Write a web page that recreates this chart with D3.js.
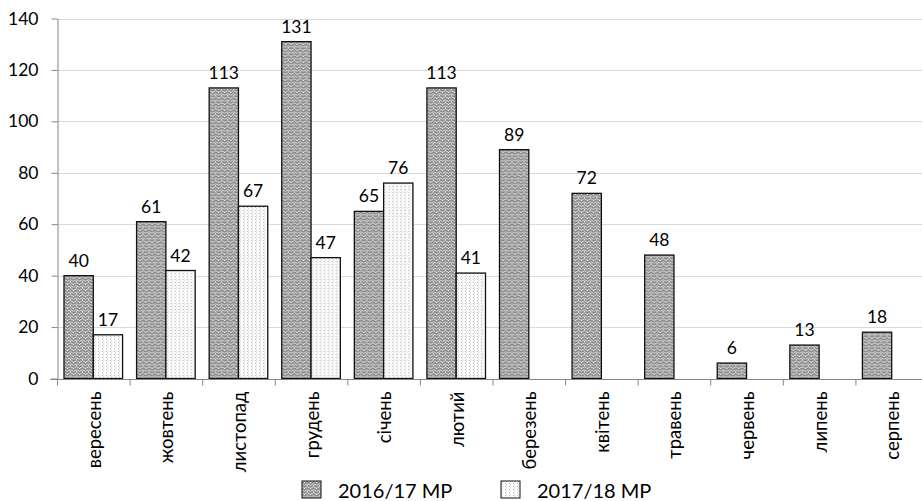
<!DOCTYPE html>
<html>
  <head>
    <meta charset="utf-8" />
    <script src="https://d3js.org/d3.v7.min.js"></script>
    <style>
      body { margin: 0; background: #fff; }
      svg { display: block; font-family: Lato, "Open Sans", sans-serif; }
    </style>
  </head>
  <body>
    <svg id="canvas" width="922" height="501"></svg>
    <script>
      // data
      var months = ["вересень", "жовтень", "листопад", "грудень", "січень", "лютий",
        "березень", "квітень", "травень", "червень", "липень", "серпень"];
      var seriesNames = ["2016/17 МР", "2017/18 МР"];
      var values1617 = [40, 61, 113, 131, 65, 113, 89, 72, 48, 6, 13, 18];
      var values1718 = [17, 42, 67, 47, 76, 41, null, null, null, null, null, null];
      var yTicks = [0, 20, 40, 60, 80, 100, 120, 140];

      var canvas = d3.select("#canvas");

      // patterns for bars
      var defs = canvas.append("defs");
      var p1 = defs.append("pattern")
        .attr("id", "pat1")
        .attr("patternUnits", "userSpaceOnUse")
        .attr("width", 6).attr("height", 6);
      p1.append("rect").attr("width", 6).attr("height", 6).attr("fill", "#8c8c8c");
      p1.append("path")
        .attr("d", "M0,1.5 Q1.5,0 3,1.5 T6,1.5 M0,4.5 Q1.5,3 3,4.5 T6,4.5")
        .attr("fill", "none").attr("stroke", "#d8d8d8").attr("stroke-width", 1);
      p1.append("rect").attr("x", 4).attr("y", 2).attr("width", 1).attr("height", 1).attr("fill", "#f2f2f2");
      p1.append("rect").attr("x", 1).attr("y", 5).attr("width", 1).attr("height", 1).attr("fill", "#f2f2f2");

      var p2 = defs.append("pattern")
        .attr("id", "pat2")
        .attr("patternUnits", "userSpaceOnUse")
        .attr("width", 4).attr("height", 3);
      p2.append("rect").attr("width", 4).attr("height", 3).attr("fill", "#fbfbfb");
      p2.append("rect").attr("x", 1).attr("y", 0).attr("width", 1).attr("height", 1).attr("fill", "#b5b5b5");
      p2.append("rect").attr("x", 2).attr("y", 1.5).attr("width", 1).attr("height", 1).attr("fill", "#cfcfcf");

      var fills = ["url(#pat1)", "url(#pat2)"];

      var x0 = d3.scaleBand().domain(months).range([57, 928]).padding(0);
      var x1 = d3.scaleBand().domain(seriesNames).range([7, x0.bandwidth() - 7]).padding(0);
      var y = d3.scaleLinear().domain([0, 140]).range([378.5, 18.5]);

      // grid lines
      canvas.append("g")
        .selectAll("line")
        .data(yTicks.slice(1))
        .enter()
        .append("line")
        .attr("x1", 57).attr("x2", 922)
        .attr("y1", function (d) { return Math.round(y(d)) + 0.5; })
        .attr("y2", function (d) { return Math.round(y(d)) + 0.5; })
        .attr("stroke", "#d9d9d9").attr("stroke-width", 1);

      // y axis
      var yAxis = canvas.append("g")
        .attr("transform", "translate(57.5,0)")
        .call(d3.axisLeft(y).tickValues(yTicks).tickSize(6).tickPadding(13).tickSizeOuter(0));
      yAxis.select(".domain").attr("stroke", "#868686");
      yAxis.selectAll(".tick line").attr("stroke", "#868686");
      yAxis.selectAll(".tick text").attr("font-size", "17.5px").attr("fill", "#000")
        .attr("font-family", "Lato, sans-serif");

      // bars
      var rows = months.map(function (m, i) {
        return { month: m, vals: [values1617[i], values1718[i]] };
      });

      var groups = canvas.append("g")
        .selectAll("g")
        .data(rows)
        .enter()
        .append("g")
        .attr("transform", function (d) { return "translate(" + x0(d.month) + ",0)"; });

      var cells = groups.selectAll("g")
        .data(function (d) {
          return d.vals.map(function (v, j) { return { s: seriesNames[j], j: j, v: v }; })
            .filter(function (c) { return c.v !== null; });
        })
        .enter()
        .append("g");

      cells.append("rect")
        .attr("x", function (d) { return x1(d.s); })
        .attr("y", function (d) { return y(d.v); })
        .attr("width", x1.bandwidth())
        .attr("height", function (d) { return y(0) - y(d.v); })
        .attr("fill", function (d) { return fills[d.j]; })
        .attr("stroke", "#111").attr("stroke-width", 1.3);

      cells.append("text")
        .attr("x", function (d) { return x1(d.s) + x1.bandwidth() / 2; })
        .attr("y", function (d) { return y(d.v) - 9; })
        .attr("text-anchor", "middle")
        .attr("font-size", "17.5px")
        .text(function (d) { return d.v; });

      // x axis
      var xAxis = canvas.append("g")
        .attr("transform", "translate(0," + (Math.round(y(0)) + 0.5) + ")");
      xAxis.append("line").attr("x1", 50).attr("x2", 922).attr("stroke", "#868686");
      xAxis.selectAll(".tk")
        .data(months.concat(["end"]))
        .enter()
        .append("line")
        .attr("class", "tk")
        .attr("x1", function (d, i) { return 57.5 + i * x0.bandwidth(); })
        .attr("x2", function (d, i) { return 57.5 + i * x0.bandwidth(); })
        .attr("y1", 0).attr("y2", 6)
        .attr("stroke", "#868686");
      xAxis.selectAll("text")
        .data(months)
        .enter()
        .append("text")
        .attr("transform", function (d) {
          return "translate(" + (x0(d) + x0.bandwidth() / 2 + 1) + ",12) rotate(-90)";
        })
        .attr("text-anchor", "end")
        .attr("dy", "0.35em")
        .attr("font-size", "18.5px")
        .text(function (d) { return d; });

      // legend
      var legend = canvas.append("g");
      var lx = [302, 501];
      seriesNames.forEach(function (s, i) {
        legend.append("rect")
          .attr("x", lx[i]).attr("y", 481)
          .attr("width", 19).attr("height", 17)
          .attr("fill", fills[i])
          .attr("stroke", "#111").attr("stroke-width", 1);
        legend.append("text")
          .attr("x", lx[i] + 36).attr("y", 498)
          .attr("font-size", "20px")
          .text(s);
      });
    </script>
  </body>
</html>
